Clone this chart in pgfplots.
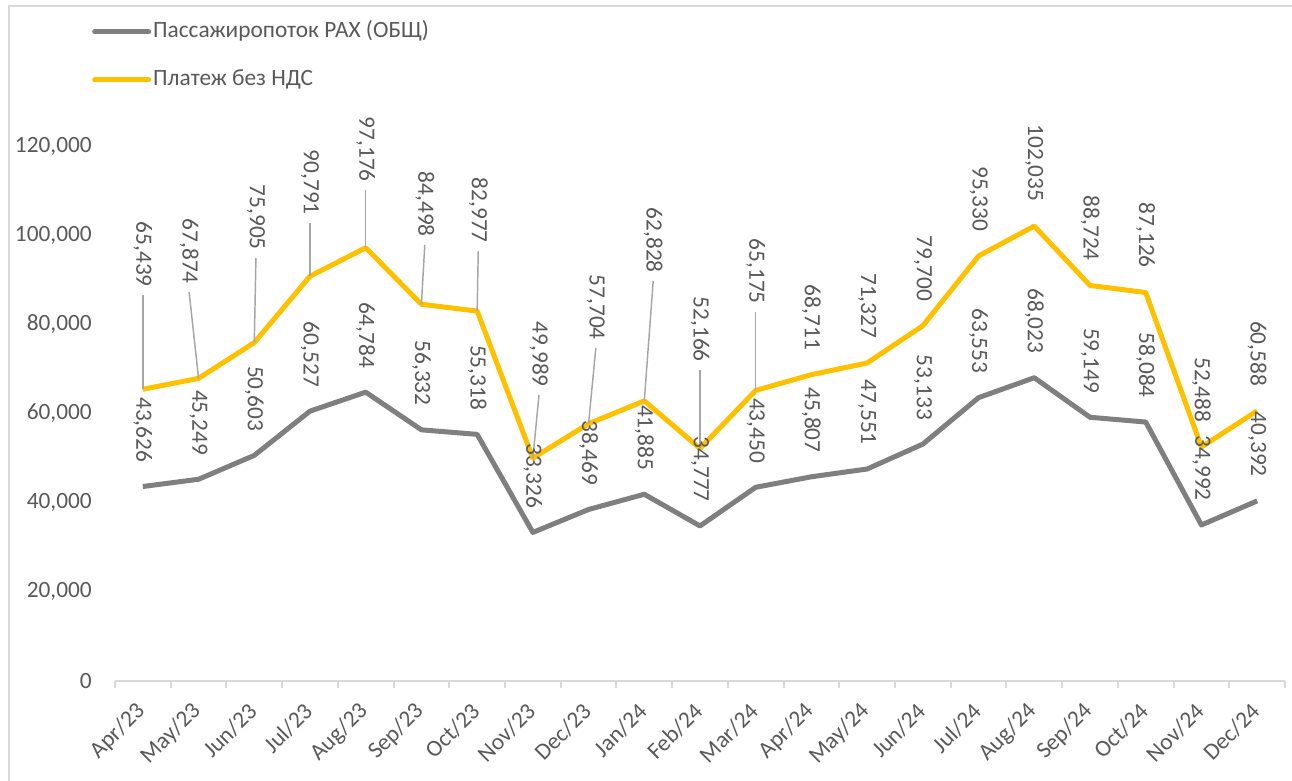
\documentclass[border=0pt]{standalone}
\usepackage{pgfplots}
\pgfplotsset{compat=1.18}
\usepackage{fontspec}
\setmainfont{Carlito}
\definecolor{txt}{HTML}{595959}
\definecolor{gline}{HTML}{7F7F7F}
\definecolor{yline}{HTML}{FFC000}
\definecolor{axl}{HTML}{D9D9D9}
\definecolor{lead}{HTML}{A6A6A6}

\pgfplotstableread{
x y lab
0 43626 43,626
1 45249 45,249
2 50603 50,603
3 60527 60,527
4 64784 64,784
5 56332 56,332
6 55318 55,318
7 33326 33,326
8 38469 38,469
9 41885 41,885
10 34777 34,777
11 43450 43,450
12 45807 45,807
13 47551 47,551
14 53133 53,133
15 63553 63,553
16 68023 68,023
17 59149 59,149
18 58084 58,084
19 34992 34,992
20 40392 40,392
}\graydata

\pgfplotstableread{
x y
0 65439
1 67874
2 75905
3 90791
4 97176
5 84498
6 82977
7 49989
8 57704
9 62828
10 52166
11 65175
12 68711
13 71327
14 79700
15 95330
16 102035
17 88724
18 87126
19 52488
20 60588
}\yellowdata

% label positions (end of rotated text) for the yellow series
\pgfplotstableread{
x y lab
0 88370 65,439
0.83 89050 67,874
2.03 96670 75,905
3.0 104520 90,791
4.0 111930 97,176
5.06 99590 84,498
6.02 98240 82,977
7.11 65940 49,989
8.13 76490 57,704
9.16 91510 62,828
10.0 71550 52,166
11.0 84560 65,175
12 74206 68,711
13 76822 71,327
14 85195 79,700
15 100825 95,330
16 107530 102,035
17 94219 88,724
18 92621 87,126
19 57983 52,488
20 66083 60,588
}\ylabels

\begin{document}
\fontsize{17.5}{21}\selectfont
\begin{tikzpicture}
\path[use as bounding box] (0pt,0pt) rectangle (969pt,585.75pt);
\draw[axl, line width=1.5pt] (6.375pt,0pt) -- (6.375pt,580.875pt) -- (969pt,580.875pt);
\begin{axis}[
  at={(86.25pt,75pt)}, anchor=south west,
  scale only axis, width=877.5pt, height=468.125pt,
  xmin=-0.5, xmax=20.5, ymin=0, ymax=140000,
  clip=false,
  axis x line*=bottom, axis y line*=left,
  axis line style={-},
  x axis line style={axl, line width=1.5pt},
  y axis line style={draw=none},
  xtick={0,...,20},
  xticklabels={Apr/23,May/23,Jun/23,Jul/23,Aug/23,Sep/23,Oct/23,Nov/23,Dec/23,Jan/24,Feb/24,Mar/24,Apr/24,May/24,Jun/24,Jul/24,Aug/24,Sep/24,Oct/24,Nov/24,Dec/24},
  major tick length=0pt,
  minor xtick={-0.5,0.5,...,20.5},
  minor tick length=5.25pt,
  tick align=outside,
  minor x tick style={axl, line width=1.5pt},
  major x tick style={draw=none},
  ytick={0,20000,40000,60000,80000,100000,120000},
  yticklabels={0,{20,000},{40,000},{60,000},{80,000},{100,000},{120,000}},
  y tick style={draw=none},
  scaled y ticks=false,
  yticklabel style={text=txt, inner sep=0pt, anchor=east, xshift=-17.25pt},
  xticklabel style={text=txt, inner sep=0pt, xshift=-1pt, yshift=-20pt, rotate=45, anchor=east},
  legend style={at={(-0.0197,1.0574)}, anchor=north west, draw=none, fill=none,
    text=txt, inner sep=0pt, row sep=20pt,
    nodes={inner ysep=0pt, inner xsep=1.5pt, text height=12pt, text depth=4pt}},
  legend cell align=left,
  legend image code/.code={\draw[#1, line cap=round] (0pt,0pt) -- (40.5pt,0pt);},
]
\addplot[gline, line width=3.75pt, line join=round] table[x=x,y=y] {\graydata};
\addlegendentry{Пассажиропоток РАХ (ОБЩ)}
\addplot[yline, line width=3.75pt, line join=round] table[x=x,y=y] {\yellowdata};
\addlegendentry{Платеж без НДС}

% leader lines
\addplot[lead, line width=1.1pt, forget plot] coordinates {(0,86580) (0,65439)};
\addplot[lead, line width=1.1pt, forget plot] coordinates {(0.83,87255) (1,67874)};
\addplot[lead, line width=1.1pt, forget plot] coordinates {(2.03,94876) (2,75905)};
\addplot[lead, line width=1.1pt, forget plot] coordinates {(3.0,102726) (3,90791)};
\addplot[lead, line width=1.1pt, forget plot] coordinates {(4.0,110136) (4,97176)};
\addplot[lead, line width=1.1pt, forget plot] coordinates {(5.06,97796) (5,84498)};
\addplot[lead, line width=1.1pt, forget plot] coordinates {(6.02,96446) (6,82977)};
\addplot[lead, line width=1.1pt, forget plot] coordinates {(7.11,64146) (7,49989)};
\addplot[lead, line width=1.1pt, forget plot] coordinates {(8.13,74696) (8,57704)};
\addplot[lead, line width=1.1pt, forget plot] coordinates {(9.16,89716) (9,62828)};
\addplot[lead, line width=1.1pt, forget plot] coordinates {(10.0,69756) (10,52166)};
\addplot[lead, line width=1.1pt, forget plot] coordinates {(11.0,82766) (11,65175)};

% gray labels
\addplot[draw=none, mark=none, forget plot, nodes near coords={\pgfplotspointmeta}, point meta=explicit symbolic,
  nodes near coords style={text=txt, inner sep=0pt, yshift=18pt, rotate=-90, anchor=east}]
  table[x=x,y=y,meta=lab] {\graydata};
% yellow labels
\addplot[draw=none, mark=none, forget plot, nodes near coords={\pgfplotspointmeta}, point meta=explicit symbolic,
  nodes near coords style={text=txt, inner sep=0pt, rotate=-90, anchor=east}]
  table[x=x,y=y,meta=lab] {\ylabels};
\end{axis}
\end{tikzpicture}
\end{document}
